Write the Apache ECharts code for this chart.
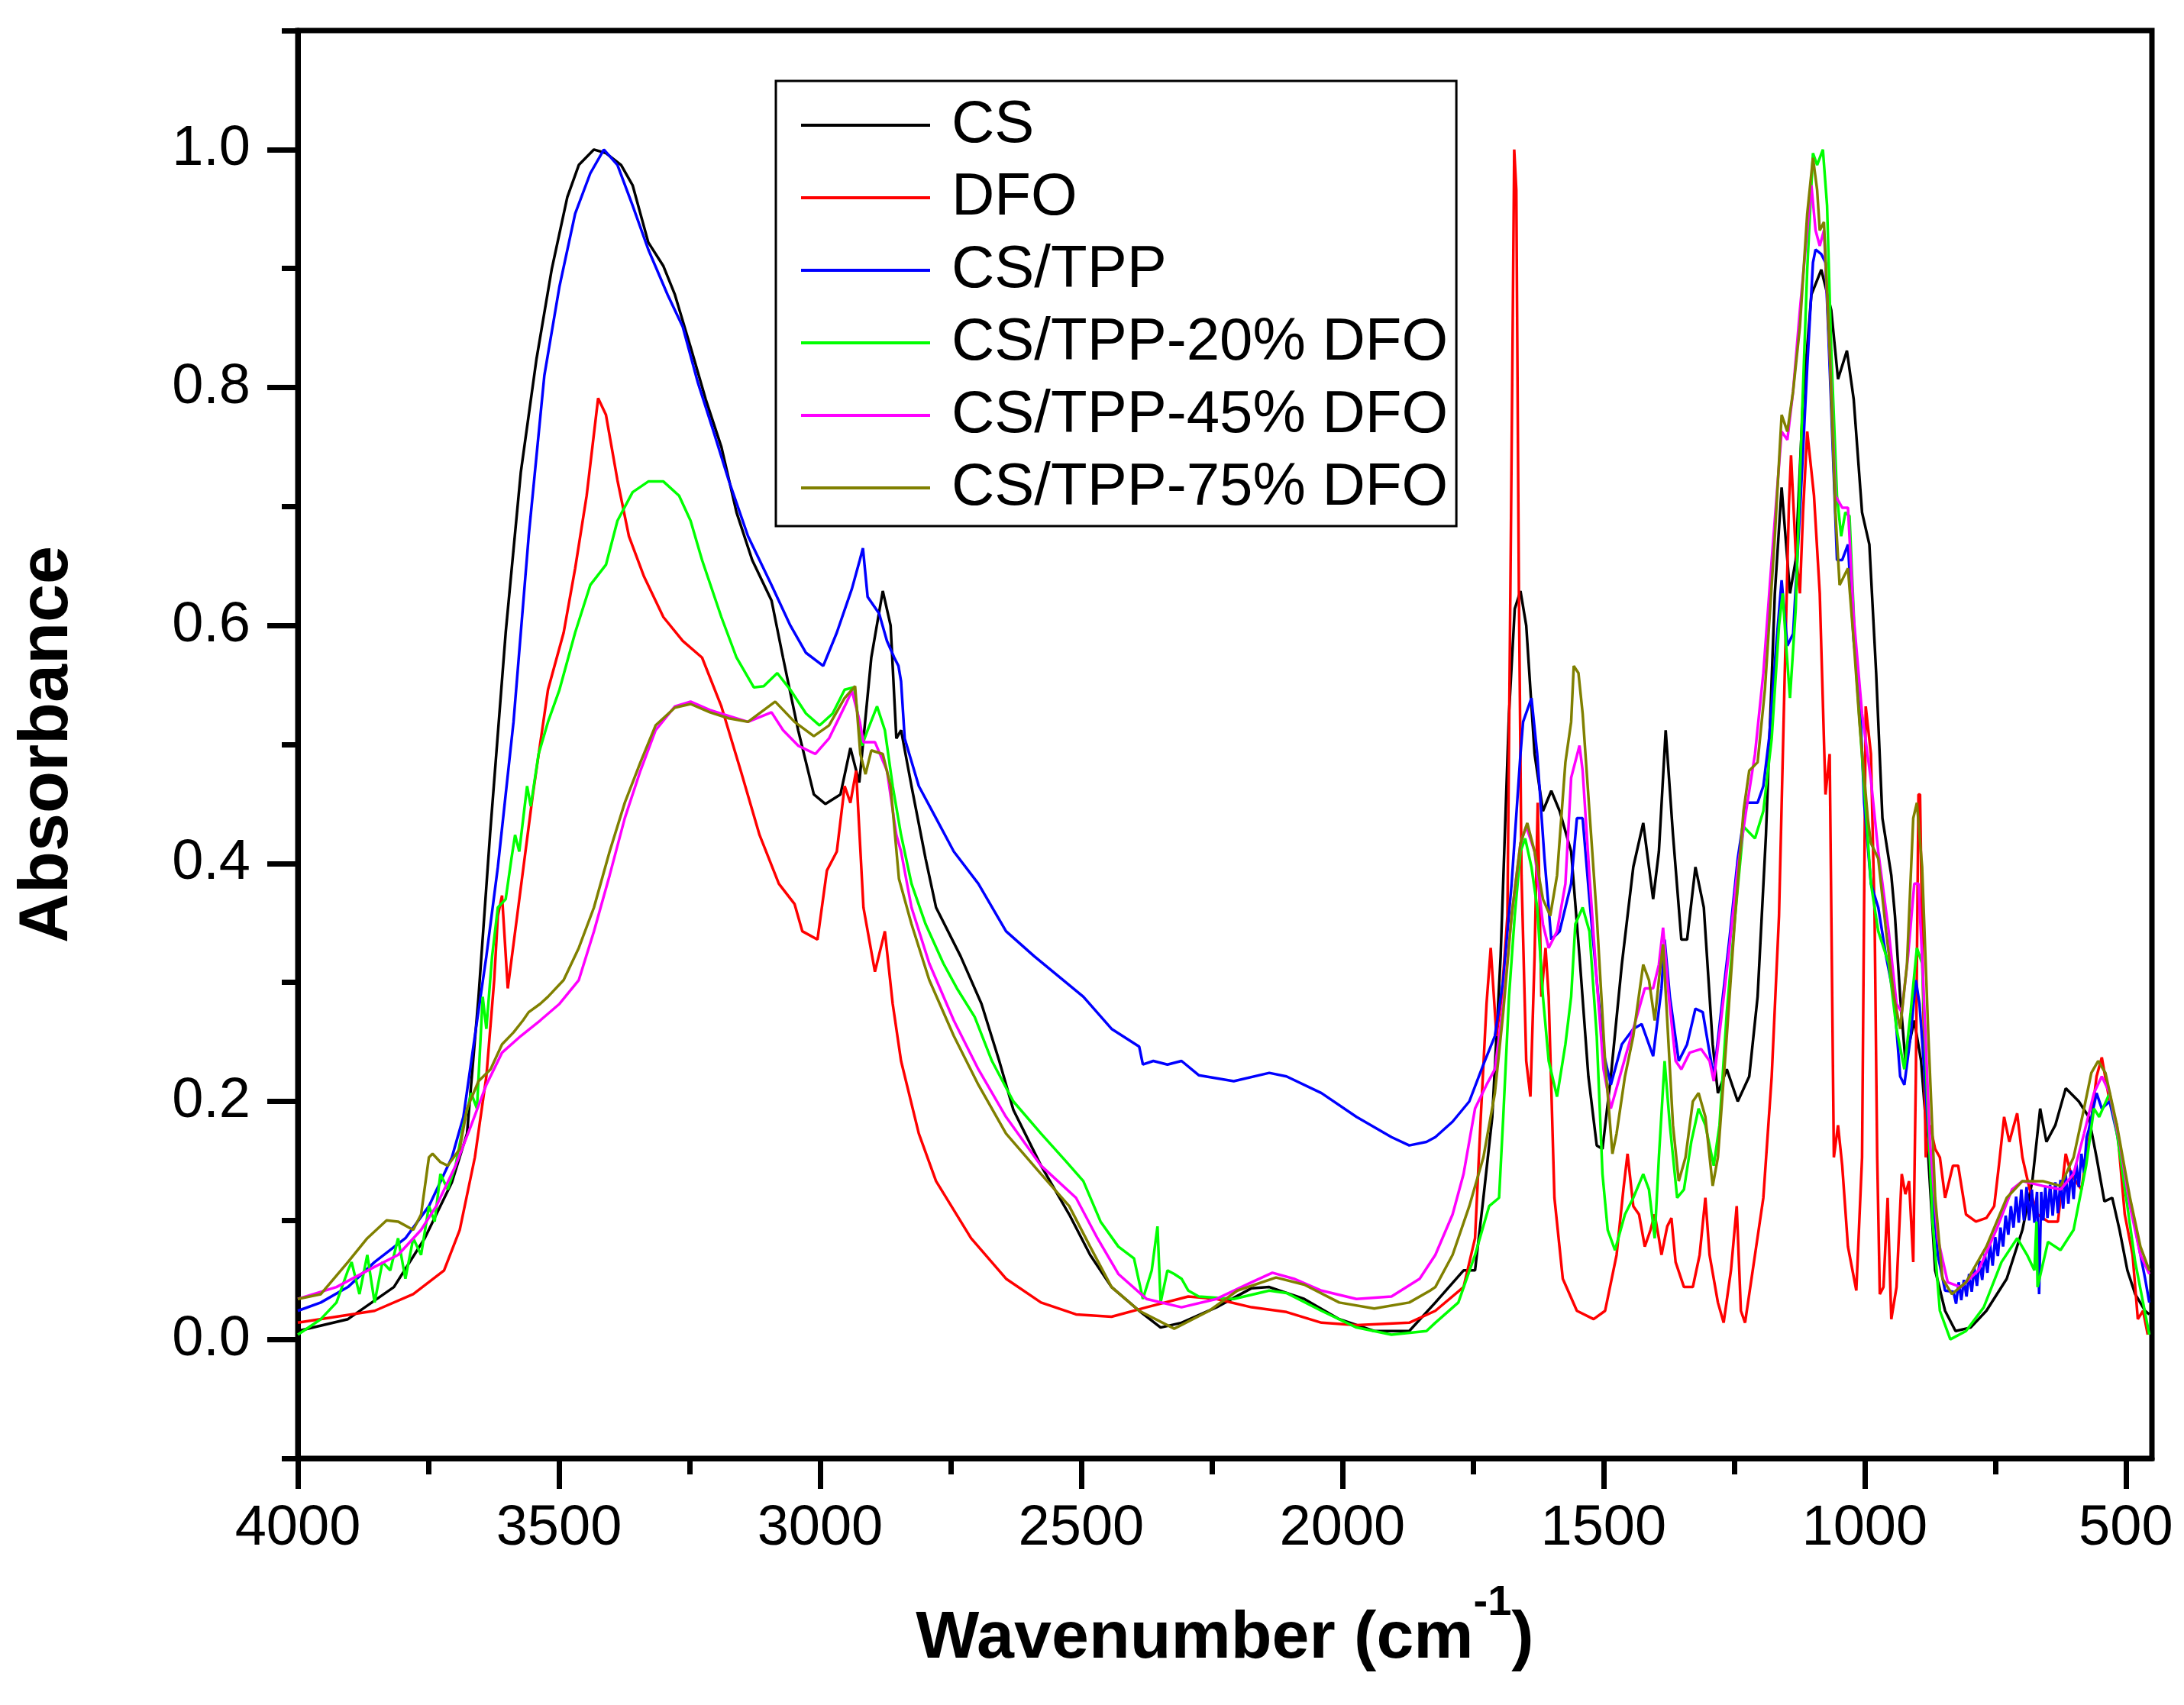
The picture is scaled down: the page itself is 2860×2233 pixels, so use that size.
<!DOCTYPE html>
<html>
<head>
<meta charset="utf-8">
<script src="https://cdn.jsdelivr.net/npm/echarts@6/dist/echarts.min.js"></script>
<style>html,body{margin:0;padding:0;background:#fff;}#c{width:2860px;height:2233px;}</style>
</head>
<body>
<div id="c"></div>
<script>
const seriesNames = ['CS', 'DFO', 'CS/TPP', 'CS/TPP-20% DFO', 'CS/TPP-45% DFO', 'CS/TPP-75% DFO'];
const xMajorTicks = [500, 1000, 1500, 2000, 2500, 3000, 3500, 4000];
const xMinorTicks = [750, 1250, 1750, 2250, 2750, 3250, 3750];
const yMajorTicks = [0, 0.2, 0.4, 0.6, 0.8, 1.0];
const yMinorTicks = [-0.1, 0.1, 0.3, 0.5, 0.7, 0.9, 1.1];

const CS = [[4000,0.007],[3904,0.017],[3816,0.044],[3757,0.085],[3705,0.132],[3676,0.173],[3654,0.288],[3632,0.424],[3602,0.594],[3573,0.729],[3543,0.824],[3514,0.899],[3484,0.960],[3462,0.987],[3433,1.0],[3410,0.997],[3381,0.987],[3359,0.970],[3329,0.922],[3300,0.902],[3278,0.878],[3248,0.834],[3219,0.790],[3189,0.750],[3160,0.695],[3130,0.655],[3093,0.621],[3071,0.573],[3042,0.512],[3012,0.458],[2990,0.450],[2961,0.458],[2942,0.497],[2925,0.468],[2902,0.573],[2880,0.629],[2865,0.600],[2854,0.505],[2845,0.512],[2825,0.465],[2798,0.404],[2778,0.363],[2731,0.322],[2691,0.282],[2657,0.234],[2630,0.193],[2577,0.146],[2523,0.105],[2483,0.071],[2442,0.044],[2389,0.024],[2348,0.010],[2308,0.014],[2241,0.027],[2174,0.043],[2140,0.044],[2073,0.034],[2006,0.017],[1939,0.007],[1872,0.007],[1822,0.031],[1768,0.058],[1746,0.058],[1730,0.119],[1713,0.187],[1697,0.322],[1681,0.526],[1670,0.614],[1659,0.629],[1648,0.600],[1632,0.492],[1616,0.444],[1600,0.461],[1584,0.444],[1562,0.410],[1546,0.322],[1529,0.221],[1513,0.163],[1502,0.160],[1486,0.221],[1465,0.315],[1443,0.397],[1424,0.434],[1405,0.370],[1394,0.410],[1381,0.512],[1367,0.424],[1351,0.336],[1340,0.336],[1324,0.397],[1308,0.363],[1291,0.248],[1281,0.207],[1264,0.227],[1243,0.200],[1221,0.221],[1205,0.288],[1189,0.424],[1172,0.627],[1159,0.716],[1148,0.655],[1143,0.627],[1132,0.655],[1118,0.790],[1102,0.878],[1083,0.899],[1064,0.865],[1051,0.807],[1034,0.831],[1021,0.790],[1005,0.695],[991,0.668],[978,0.560],[966,0.438],[949,0.390],[942,0.356],[932,0.288],[922,0.234],[905,0.268],[892,0.234],[880,0.166],[865,0.058],[846,0.024],[826,0.007],[797,0.010],[767,0.024],[728,0.051],[698,0.092],[679,0.133],[664,0.194],[652,0.166],[635,0.180],[615,0.211],[590,0.200],[571,0.187],[556,0.153],[541,0.116],[526,0.119],[512,0.092],[497,0.058],[482,0.038],[463,0.024],[455,0.021]];

const DFO = [[4000,0.014],[3853,0.024],[3779,0.038],[3720,0.058],[3690,0.092],[3661,0.153],[3639,0.221],[3624,0.302],[3617,0.356],[3609,0.373],[3598,0.295],[3580,0.356],[3550,0.458],[3521,0.546],[3491,0.594],[3469,0.648],[3447,0.709],[3425,0.791],[3410,0.777],[3388,0.722],[3366,0.675],[3337,0.641],[3300,0.607],[3263,0.587],[3226,0.573],[3189,0.532],[3152,0.478],[3116,0.424],[3079,0.383],[3049,0.366],[3034,0.343],[3005,0.336],[2987,0.394],[2968,0.410],[2953,0.465],[2942,0.451],[2931,0.478],[2917,0.363],[2895,0.309],[2876,0.343],[2861,0.282],[2845,0.234],[2811,0.173],[2778,0.133],[2711,0.085],[2644,0.051],[2577,0.031],[2510,0.021],[2442,0.019],[2375,0.027],[2295,0.036],[2241,0.034],[2174,0.027],[2107,0.023],[2040,0.014],[1973,0.012],[1872,0.014],[1822,0.024],[1768,0.044],[1746,0.085],[1735,0.187],[1724,0.282],[1716,0.329],[1705,0.255],[1695,0.288],[1684,0.356],[1677,0.695],[1671,1.0],[1667,0.966],[1662,0.627],[1657,0.390],[1648,0.234],[1640,0.204],[1632,0.322],[1626,0.451],[1619,0.288],[1611,0.329],[1605,0.288],[1594,0.119],[1578,0.051],[1551,0.024],[1519,0.017],[1497,0.024],[1475,0.071],[1462,0.126],[1454,0.156],[1443,0.112],[1432,0.105],[1421,0.078],[1410,0.092],[1402,0.105],[1394,0.085],[1389,0.071],[1378,0.095],[1370,0.102],[1362,0.065],[1346,0.044],[1329,0.044],[1316,0.071],[1305,0.119],[1297,0.071],[1281,0.031],[1270,0.014],[1256,0.058],[1245,0.112],[1237,0.024],[1229,0.014],[1210,0.071],[1194,0.119],[1178,0.221],[1164,0.356],[1153,0.560],[1145,0.702],[1141,0.743],[1132,0.661],[1124,0.627],[1118,0.695],[1110,0.763],[1097,0.709],[1086,0.627],[1075,0.458],[1067,0.492],[1059,0.153],[1051,0.180],[1043,0.146],[1032,0.078],[1016,0.041],[1005,0.153],[998,0.532],[988,0.492],[981,0.356],[976,0.153],[971,0.038],[964,0.044],[956,0.119],[949,0.017],[939,0.044],[929,0.139],[922,0.122],[915,0.133],[907,0.065],[902,0.221],[897,0.458],[894,0.458],[888,0.288],[883,0.153],[875,0.180],[865,0.160],[856,0.153],[846,0.119],[831,0.146],[821,0.146],[806,0.105],[787,0.099],[767,0.102],[752,0.112],[743,0.146],[733,0.187],[723,0.166],[708,0.190],[698,0.153],[684,0.126],[669,0.105],[649,0.099],[630,0.099],[615,0.156],[605,0.139],[585,0.126],[571,0.166],[556,0.221],[546,0.237],[531,0.200],[517,0.180],[502,0.105],[487,0.071],[477,0.017],[467,0.024],[458,0.004]];

const CSTPP = [[4000,0.024],[3956,0.031],[3904,0.044],[3853,0.065],[3794,0.085],[3749,0.112],[3705,0.153],[3683,0.187],[3661,0.255],[3639,0.322],[3617,0.397],[3587,0.519],[3558,0.675],[3528,0.810],[3499,0.885],[3469,0.946],[3440,0.980],[3414,1.0],[3388,0.987],[3359,0.953],[3329,0.916],[3292,0.878],[3263,0.851],[3234,0.804],[3204,0.763],[3175,0.722],[3138,0.675],[3093,0.634],[3057,0.600],[3027,0.577],[2994,0.566],[2968,0.594],[2939,0.631],[2924,0.655],[2918,0.665],[2909,0.624],[2887,0.610],[2872,0.587],[2858,0.573],[2850,0.566],[2845,0.553],[2838,0.505],[2811,0.465],[2778,0.438],[2744,0.410],[2697,0.383],[2644,0.343],[2590,0.322],[2543,0.305],[2496,0.288],[2442,0.261],[2389,0.246],[2382,0.231],[2362,0.234],[2335,0.231],[2308,0.234],[2275,0.222],[2208,0.217],[2140,0.224],[2107,0.221],[2040,0.207],[1973,0.187],[1906,0.170],[1872,0.163],[1839,0.166],[1822,0.170],[1789,0.183],[1757,0.200],[1730,0.231],[1708,0.255],[1692,0.302],[1676,0.383],[1659,0.492],[1654,0.519],[1638,0.539],[1627,0.492],[1613,0.404],[1600,0.336],[1584,0.343],[1562,0.383],[1551,0.438],[1540,0.438],[1527,0.370],[1513,0.302],[1500,0.241],[1486,0.214],[1465,0.248],[1443,0.261],[1427,0.265],[1405,0.238],[1389,0.295],[1383,0.336],[1373,0.288],[1356,0.234],[1340,0.248],[1324,0.278],[1310,0.275],[1297,0.241],[1289,0.221],[1275,0.275],[1259,0.336],[1243,0.404],[1227,0.451],[1205,0.451],[1194,0.465],[1183,0.505],[1170,0.580],[1159,0.638],[1148,0.583],[1137,0.593],[1124,0.695],[1110,0.817],[1099,0.905],[1094,0.916],[1083,0.912],[1075,0.905],[1067,0.817],[1053,0.655],[1043,0.655],[1032,0.668],[1021,0.587],[1010,0.546],[1001,0.451],[988,0.383],[974,0.363],[959,0.322],[944,0.288],[932,0.221],[924,0.214],[912,0.255],[902,0.302],[895,0.282],[885,0.221],[875,0.153],[860,0.071],[846,0.041],[830,0.040],[825,0.030],[820,0.048],[815,0.033],[810,0.050],[805,0.036],[800,0.055],[795,0.040],[790,0.060],[785,0.045],[780,0.066],[775,0.050],[770,0.072],[765,0.056],[760,0.080],[755,0.062],[750,0.086],[745,0.070],[740,0.094],[735,0.078],[730,0.104],[725,0.088],[720,0.112],[715,0.094],[710,0.120],[705,0.098],[700,0.126],[695,0.100],[690,0.128],[685,0.100],[680,0.126],[675,0.098],[670,0.124],[666,0.038],[662,0.124],[658,0.100],[654,0.128],[650,0.102],[645,0.130],[640,0.104],[635,0.132],[630,0.106],[625,0.134],[620,0.110],[615,0.138],[610,0.114],[605,0.142],[600,0.118],[595,0.148],[590,0.128],[585,0.156],[580,0.140],[575,0.170],[571,0.176],[556,0.207],[546,0.194],[531,0.200],[517,0.173],[502,0.139],[487,0.105],[472,0.071],[463,0.051],[455,0.031]];

const DFO20 = [[4000,0.004],[3956,0.017],[3926,0.031],[3904,0.058],[3897,0.065],[3882,0.038],[3867,0.071],[3853,0.031],[3838,0.065],[3823,0.058],[3808,0.085],[3794,0.051],[3779,0.085],[3764,0.071],[3749,0.112],[3738,0.099],[3727,0.139],[3713,0.126],[3698,0.146],[3683,0.180],[3668,0.207],[3657,0.194],[3646,0.288],[3639,0.261],[3628,0.322],[3617,0.363],[3602,0.370],[3591,0.404],[3584,0.424],[3576,0.410],[3561,0.465],[3554,0.448],[3539,0.492],[3521,0.519],[3499,0.546],[3469,0.594],[3440,0.634],[3410,0.651],[3388,0.688],[3359,0.712],[3329,0.721],[3300,0.721],[3270,0.709],[3248,0.688],[3226,0.655],[3189,0.607],[3160,0.573],[3127,0.548],[3108,0.549],[3082,0.560],[3057,0.546],[3027,0.526],[3001,0.516],[2976,0.526],[2953,0.546],[2935,0.548],[2920,0.499],[2909,0.512],[2891,0.532],[2876,0.512],[2861,0.465],[2845,0.424],[2825,0.383],[2798,0.349],[2764,0.316],[2738,0.295],[2704,0.271],[2671,0.234],[2630,0.200],[2577,0.173],[2530,0.150],[2496,0.133],[2463,0.099],[2429,0.078],[2399,0.068],[2382,0.034],[2365,0.058],[2354,0.095],[2348,0.031],[2335,0.058],[2322,0.055],[2308,0.051],[2295,0.041],[2275,0.036],[2208,0.034],[2140,0.041],[2107,0.039],[2040,0.024],[1973,0.010],[1906,0.004],[1839,0.007],[1822,0.014],[1778,0.031],[1746,0.071],[1719,0.112],[1700,0.119],[1692,0.187],[1681,0.288],[1670,0.356],[1659,0.410],[1650,0.421],[1638,0.397],[1627,0.363],[1616,0.288],[1605,0.234],[1589,0.204],[1573,0.248],[1562,0.288],[1554,0.349],[1540,0.363],[1527,0.343],[1513,0.255],[1502,0.139],[1492,0.092],[1478,0.075],[1459,0.105],[1443,0.119],[1424,0.139],[1413,0.126],[1402,0.085],[1394,0.153],[1383,0.234],[1373,0.180],[1359,0.119],[1346,0.126],[1332,0.166],[1318,0.194],[1305,0.180],[1289,0.146],[1278,0.180],[1264,0.275],[1248,0.356],[1232,0.431],[1210,0.421],[1194,0.444],[1178,0.505],[1164,0.600],[1157,0.627],[1151,0.587],[1143,0.539],[1132,0.614],[1121,0.763],[1110,0.899],[1099,0.997],[1091,0.987],[1080,1.0],[1072,0.953],[1064,0.831],[1053,0.709],[1045,0.675],[1037,0.695],[1029,0.692],[1016,0.560],[1002,0.470],[988,0.383],[974,0.343],[954,0.316],[939,0.261],[924,0.227],[912,0.275],[900,0.329],[890,0.316],[880,0.200],[870,0.099],[856,0.024],[836,0.000],[806,0.007],[772,0.027],[738,0.065],[708,0.085],[689,0.071],[675,0.058],[671,0.099],[669,0.044],[649,0.082],[625,0.075],[600,0.092],[576,0.146],[561,0.194],[551,0.187],[531,0.207],[517,0.173],[497,0.112],[482,0.065],[467,0.031],[455,0.004]];

const DFO45 = [[4000,0.034],[3926,0.044],[3853,0.061],[3808,0.071],[3764,0.092],[3735,0.112],[3698,0.146],[3668,0.180],[3639,0.214],[3609,0.241],[3573,0.255],[3536,0.268],[3499,0.282],[3462,0.302],[3433,0.343],[3403,0.390],[3374,0.438],[3344,0.478],[3315,0.512],[3278,0.532],[3248,0.536],[3211,0.529],[3175,0.524],[3138,0.519],[3093,0.527],[3071,0.512],[3042,0.499],[3009,0.492],[2983,0.505],[2953,0.532],[2939,0.545],[2924,0.519],[2917,0.502],[2895,0.502],[2872,0.478],[2854,0.424],[2845,0.410],[2825,0.363],[2791,0.316],[2744,0.268],[2697,0.227],[2644,0.187],[2577,0.146],[2510,0.119],[2469,0.085],[2429,0.055],[2375,0.034],[2308,0.027],[2241,0.034],[2174,0.048],[2134,0.056],[2093,0.051],[2040,0.041],[1973,0.034],[1906,0.036],[1852,0.051],[1822,0.071],[1789,0.105],[1768,0.139],[1746,0.194],[1724,0.214],[1708,0.227],[1692,0.282],[1676,0.356],[1659,0.417],[1648,0.431],[1632,0.410],[1616,0.349],[1605,0.329],[1589,0.343],[1573,0.383],[1562,0.472],[1546,0.499],[1540,0.478],[1527,0.390],[1513,0.302],[1500,0.227],[1486,0.194],[1465,0.227],[1443,0.261],[1421,0.295],[1405,0.295],[1394,0.315],[1386,0.346],[1375,0.288],[1362,0.234],[1351,0.227],[1335,0.241],[1313,0.244],[1297,0.234],[1289,0.217],[1275,0.268],[1259,0.329],[1243,0.397],[1227,0.444],[1210,0.492],[1194,0.560],[1178,0.655],[1159,0.763],[1148,0.756],[1137,0.797],[1124,0.865],[1110,0.932],[1102,0.970],[1094,0.932],[1086,0.919],[1078,0.932],[1067,0.831],[1056,0.709],[1043,0.699],[1032,0.699],[1021,0.607],[1005,0.526],[988,0.470],[974,0.410],[954,0.343],[939,0.282],[929,0.275],[917,0.322],[905,0.383],[897,0.383],[888,0.302],[875,0.166],[860,0.085],[841,0.048],[816,0.044],[782,0.058],[748,0.092],[718,0.126],[698,0.133],[659,0.129],[625,0.126],[600,0.139],[580,0.173],[561,0.207],[546,0.221],[531,0.207],[512,0.166],[492,0.112],[472,0.071],[455,0.055]];

const DFO75 = [[4000,0.034],[3956,0.038],[3904,0.065],[3867,0.085],[3830,0.100],[3808,0.099],[3779,0.092],[3764,0.105],[3749,0.153],[3742,0.156],[3727,0.149],[3713,0.146],[3690,0.160],[3676,0.194],[3654,0.217],[3631,0.227],[3609,0.248],[3587,0.258],[3569,0.268],[3558,0.275],[3536,0.282],[3521,0.288],[3491,0.302],[3462,0.329],[3433,0.363],[3403,0.410],[3374,0.451],[3344,0.485],[3315,0.516],[3278,0.531],[3248,0.534],[3211,0.527],[3175,0.522],[3138,0.519],[3086,0.536],[3049,0.519],[3012,0.507],[2983,0.516],[2953,0.539],[2933,0.549],[2923,0.492],[2913,0.475],[2902,0.495],[2880,0.492],[2865,0.465],[2849,0.387],[2825,0.349],[2791,0.302],[2744,0.255],[2697,0.214],[2644,0.173],[2577,0.139],[2523,0.112],[2483,0.078],[2442,0.044],[2389,0.024],[2322,0.009],[2255,0.024],[2201,0.041],[2127,0.052],[2073,0.046],[2006,0.031],[1939,0.026],[1872,0.031],[1832,0.041],[1822,0.044],[1789,0.071],[1757,0.112],[1730,0.153],[1708,0.207],[1692,0.275],[1676,0.356],[1659,0.417],[1646,0.434],[1632,0.410],[1616,0.370],[1602,0.356],[1589,0.390],[1573,0.485],[1562,0.519],[1557,0.566],[1548,0.560],[1540,0.526],[1527,0.444],[1513,0.356],[1497,0.234],[1483,0.156],[1475,0.173],[1459,0.221],[1443,0.255],[1424,0.315],[1413,0.302],[1402,0.268],[1394,0.302],[1386,0.332],[1378,0.268],[1367,0.180],[1356,0.133],[1343,0.153],[1329,0.200],[1318,0.207],[1305,0.187],[1291,0.129],[1281,0.153],[1264,0.255],[1248,0.356],[1232,0.444],[1221,0.478],[1205,0.485],[1191,0.546],[1172,0.675],[1159,0.777],[1148,0.763],[1137,0.797],[1124,0.851],[1110,0.946],[1099,0.993],[1091,0.966],[1086,0.932],[1078,0.939],[1067,0.831],[1056,0.695],[1048,0.634],[1040,0.641],[1032,0.648],[1021,0.587],[1010,0.519],[994,0.438],[988,0.417],[974,0.404],[959,0.343],[944,0.288],[932,0.261],[919,0.315],[907,0.438],[900,0.451],[890,0.397],[878,0.255],[865,0.119],[851,0.051],[833,0.038],[806,0.048],[767,0.078],[728,0.119],[698,0.133],[659,0.133],[625,0.129],[600,0.153],[580,0.194],[566,0.224],[553,0.234],[539,0.224],[517,0.180],[492,0.119],[472,0.078],[455,0.058]];

const seriesData = [CS, DFO, CSTPP, DFO20, DFO45, DFO75];
const seriesColors = ['#000000', '#FF0000', '#0000FF', '#00FF00', '#FF00FF', '#808000'];

const FONT = '"Liberation Sans", Arial, sans-serif';
const chart = echarts.init(document.getElementById('c'), null, {renderer: 'canvas', width: 2860, height: 2233});

const option = {
  animation: false,
  backgroundColor: '#ffffff',
  grid: {left: 390, right: 42, top: 40, bottom: 323, containLabel: false, outerBoundsMode: 'none',
         show: true, borderColor: '#000', borderWidth: 7, backgroundColor: 'transparent'},
  legend: {
    orient: 'vertical', left: 1016, top: 106,
    padding: [19, 11, 11, 33], itemGap: 17, itemWidth: 169, itemHeight: 4, icon: 'rect',
    borderColor: '#000', borderWidth: 3, backgroundColor: '#fff',
    textStyle: {fontSize: 78, fontFamily: FONT, color: '#000', lineHeight: 78, padding: [0, 0, 0, 23]},
    data: seriesNames
  },
  xAxis: [
    {
      type: 'value', inverse: true, min: 450, max: 4000, position: 'bottom',
      axisLine: {show: true, onZero: false, lineStyle: {color: '#000', width: 7}},
      axisTick: {show: true, customValues: xMajorTicks, length: 40, lineStyle: {color: '#000', width: 7}},
      axisLabel: {customValues: xMajorTicks, fontSize: 74, fontFamily: FONT, color: '#000', margin: 56,
                  formatter: v => String(v)},
      splitLine: {show: false},
      name: '{a|Wavenumber (cm}{s|-1}{a|)}', nameLocation: 'middle', nameGap: 162, nameMoveOverlap: false,
      nameTextStyle: {
        rich: {
          a: {fontSize: 88, fontWeight: 'bold', fontFamily: FONT, color: '#000', lineHeight: 150},
          s: {fontSize: 56, fontWeight: 'bold', fontFamily: FONT, color: '#000', lineHeight: 56, verticalAlign: 'top'}
        }
      }
    },
    {
      type: 'value', inverse: true, min: 450, max: 4000, position: 'bottom',
      axisLine: {show: false, onZero: false},
      axisTick: {show: true, customValues: xMinorTicks, length: 21, lineStyle: {color: '#000', width: 7}},
      axisLabel: {show: false},
      splitLine: {show: false}
    }
  ],
  yAxis: [
    {
      type: 'value', min: -0.1, max: 1.1, position: 'left',
      axisLine: {show: true, onZero: false, lineStyle: {color: '#000', width: 7}},
      axisTick: {show: true, customValues: yMajorTicks, length: 40, lineStyle: {color: '#000', width: 7}},
      axisLabel: {customValues: yMajorTicks, fontSize: 74, fontFamily: FONT, color: '#000', margin: 62,
                  formatter: v => Number(v).toFixed(1)},
      splitLine: {show: false},
      name: 'Absorbance', nameLocation: 'middle', nameGap: 282, nameRotate: 90, nameMoveOverlap: false,
      nameTextStyle: {fontSize: 90, fontWeight: 'bold', fontFamily: FONT, color: '#000'}
    },
    {
      type: 'value', min: -0.1, max: 1.1, position: 'left',
      axisLine: {show: false, onZero: false},
      axisTick: {show: true, customValues: yMinorTicks, length: 21, lineStyle: {color: '#000', width: 7}},
      axisLabel: {show: false},
      splitLine: {show: false}
    }
  ],
  series: seriesNames.map((n, i) => ({
    name: n, type: 'line', xAxisIndex: 0, yAxisIndex: 0,
    data: seriesData[i], symbol: 'none', showSymbol: false,
    lineStyle: {color: seriesColors[i], width: 3.5}, itemStyle: {color: seriesColors[i]},
    clip: true
  }))
};
chart.setOption(option);
</script>
</body>
</html>
